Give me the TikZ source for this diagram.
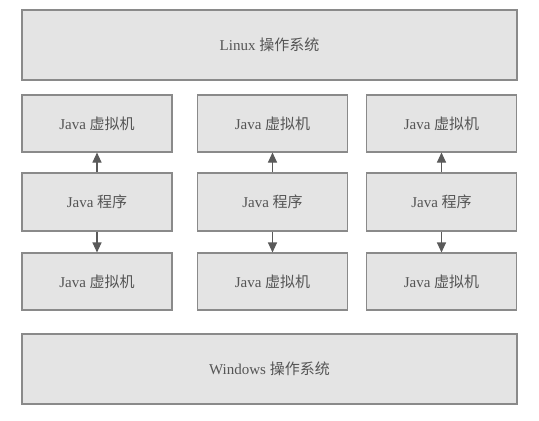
\documentclass[tikz,border=0pt]{standalone}
\usepackage{fontspec}
\setmainfont{Liberation Serif}
\newfontfamily\cjk{Noto Sans CJK SC}
\usetikzlibrary{arrows.meta}
\definecolor{boxfill}{HTML}{E4E4E4}
\definecolor{boxline}{HTML}{8A8A8A}
\definecolor{txt}{HTML}{555555}
\definecolor{arr}{HTML}{5A5A5A}
\begin{document}
\begin{tikzpicture}[x=1pt,y=-1pt,
  box/.style={draw=boxline,fill=boxfill,line width=1.1pt,inner sep=0pt,
    minimum width=150pt,minimum height=57pt,text=txt,font=\fontsize{15}{18}\selectfont},
  wide/.style={box,minimum width=495pt,minimum height=70pt},
  link/.style={draw=arr,line width=1.1pt,-{Triangle[length=10pt,width=9pt]}}]
\useasboundingbox[fill=white] (0,0) rectangle (539,421);
\node[wide] (linux) at (269.5,45) {Linux {\cjk 操作系统}};
\foreach \i/\x in {1/97,2/272.5,3/441.5}{
  \node[box] (vmt\i) at (\x,123.5) {Java {\cjk 虚拟机}};
  \node[box,minimum height=58pt] (prog\i) at (\x,202) {Java {\cjk 程序}};
  \node[box] (vmb\i) at (\x,281.5) {Java {\cjk 虚拟机}};
  \draw[link] (prog\i) -- (vmt\i);
  \draw[link] (prog\i) -- (vmb\i);
}
\node[wide] (win) at (269.5,369) {Windows {\cjk 操作系统}};
\end{tikzpicture}
\end{document}
